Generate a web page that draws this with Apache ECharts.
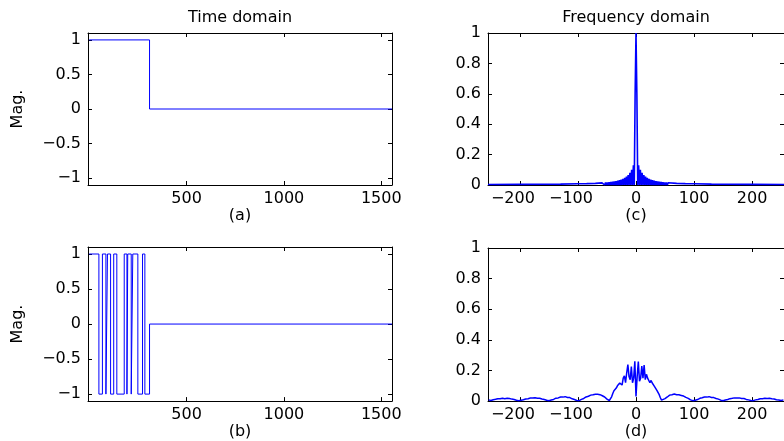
<!DOCTYPE html>
<html><head><meta charset="utf-8">
<script src="https://cdn.jsdelivr.net/npm/echarts@6/dist/echarts.min.js"></script>
<style>html,body{margin:0;padding:0;background:#fff}#c{width:784px;height:441px}</style>
</head><body><div id="c"></div>
<script>
// ---- data ----
const pulseEdges = [0, 310, 1555];
const pulseLevels = [1, 0];
const bitEdges = [0, 50, 68, 86, 94, 110, 126, 142, 180, 194, 198, 216, 224, 250, 274, 286, 310, 1555];
const bitLevels = [1, -1, 1, -1, 1, -1, 1, -1, 1, -1, 1, -1, 1, -1, 1, -1, 0];
const timeTicks = [500, 1000, 1500];
const magTicks = [-1, -0.5, 0, 0.5, 1];
const freqTicks = [-200, -100, 0, 100, 200];
const specTicks = [0, 0.2, 0.4, 0.6, 0.8, 1];
const titles = ['Time domain', 'Frequency domain'];
const subLabels = ['(a)', '(b)', '(c)', '(d)'];
const yName = 'Mag.';

const freqC = [-255, -200, -160, -130, -100, -85, -70,
  -58.5, -57, -55.5, -54, -52.5, -51, -49.5, -48, -46.5, -45, -43.5, -42, -40.5, -39, -37.5, -36,
  -34.5, -33, -31.5, -30, -28.5, -27, -25.5, -24, -22.5, -21, -19.5, -18, -16.5, -15, -13.5, -12,
  -10.5, -9, -7.5, -6, -4.5, -3, -1.5, 0, 1.5, 3, 4.5, 6, 7.5, 9, 10.5, 12, 13.5, 15, 16.5, 18,
  19.5, 21, 22.5, 24, 25.5, 27, 28.5, 30, 31.5, 33, 34.5, 36, 37.5, 39, 40.5, 42, 43.5, 45, 46.5, 48,
  49.5, 51, 52.5, 54, 55.5, 57, 58.5, 70, 85, 100, 130, 160, 200, 255];
const magC = [0.003, 0.004, 0.005, 0.006, 0.008, 0.009, 0.011,
  0.014, 0.002, 0.015, 0, 0.016, 0, 0.017, 0, 0.018, 0, 0.020, 0, 0.022, 0, 0.024, 0,
  0.026, 0, 0.029, 0, 0.032, 0, 0.036, 0, 0.041, 0, 0.047, 0, 0.055, 0, 0.065, 0,
  0.080, 0, 0.100, 0, 0.130, 0, 0.600, 1.000, 0.600, 0, 0.130, 0, 0.100, 0, 0.080, 0, 0.065, 0, 0.055, 0,
  0.047, 0, 0.041, 0, 0.036, 0, 0.032, 0, 0.029, 0, 0.026, 0, 0.024, 0, 0.022, 0, 0.020, 0, 0.018, 0,
  0.017, 0, 0.016, 0, 0.015, 0.002, 0.014, 0.011, 0.009, 0.008, 0.006, 0.005, 0.004, 0.003];

const freqD = [-254, -250, -246, -242, -238, -234, -230, -226, -222, -218, -214, -210, -206, -202,
  -198, -194, -190, -186, -182, -178, -174, -170, -166, -162, -158, -154, -150, -146, -142, -138,
  -134, -130, -126, -122, -118, -114, -110, -106, -102, -98, -94, -90, -86, -82, -78, -74, -70,
  -66, -62, -58, -54, -50, -46,
  -44, -42, -40, -38, -36, -34, -32, -30, -28, -26, -24, -22, -20, -18, -16, -14, -12, -10, -8,
  -6, -4, -2, 0, 2, 4, 6, 8, 10, 12, 14, 16, 18, 20, 22, 24, 26, 28, 30, 32, 34, 36, 38, 40, 42, 44,
  46, 50, 54, 58, 62, 66, 70, 74, 78, 82, 86, 90, 94, 98, 102, 106, 110, 114, 118, 122, 126, 130,
  134, 138, 142, 146, 150, 154, 158, 162, 166, 170, 174, 178, 182, 186, 190, 194, 198, 202, 206,
  210, 214, 218, 222, 226, 230, 234, 238, 242, 246, 250, 254];
const magD = [0.008, 0.004, 0.009, 0.012, 0.016, 0.015, 0.019, 0.016, 0.018, 0.017, 0.013, 0.011, 0.006, 0.003,
  0.005, 0.009, 0.014, 0.016, 0.020, 0.020, 0.022, 0.019, 0.019, 0.014, 0.011, 0.006, 0.002, 0.007, 0.011, 0.019,
  0.021, 0.027, 0.026, 0.029, 0.024, 0.023, 0.015, 0.010, 0.004, 0.003, 0.011, 0.017, 0.027, 0.032, 0.039, 0.041, 0.045,
  0.045, 0.042, 0.035, 0.027, 0.013, 0.004,
  0.008, 0.028, 0.050, 0.068, 0.062, 0.085, 0.100, 0.090, 0.118, 0.130, 0.105, 0.150, 0.165, 0.120, 0.185, 0.238, 0.160, 0.140, 0.225,
  0.120, 0.150, 0.260, 0.030, 0.160, 0.258, 0.130, 0.150, 0.228, 0.150, 0.236, 0.140, 0.175, 0.150, 0.160, 0.120, 0.135, 0.118, 0.108, 0.095, 0.088, 0.070, 0.062, 0.042, 0.022, 0.006,
  0.004, 0.016, 0.027, 0.039, 0.042, 0.046, 0.042, 0.041, 0.037, 0.033, 0.024, 0.018, 0.008, 0.003, 0.006, 0.010, 0.018, 0.022, 0.027, 0.026, 0.029, 0.024,
  0.023, 0.017, 0.013, 0.006, 0.002, 0.007, 0.010, 0.016, 0.018, 0.021, 0.020, 0.021, 0.017, 0.017, 0.011, 0.008, 0.004, 0.003, 0.008,
  0.010, 0.015, 0.015, 0.018, 0.017, 0.018, 0.015, 0.014, 0.009, 0.007, 0.004, 0.008];

// ---- helpers ----
function stepPoints(edges, levels) {
  const pts = [];
  for (let i = 0; i < levels.length; i++) {
    pts.push([edges[i], levels[i]]);
    pts.push([edges[i + 1], levels[i]]);
  }
  return pts;
}
function pairs(xs, ys) { return xs.map((x, i) => [x, ys[i]]); }
const FONT = 'DejaVu Sans';
const FS = 16;
const fmt = v => String(v).replace('-', '\u2212');
const fmtNegShift = v => v < 0 ? '{n|' + fmt(v) + '}' : fmt(v);
const lineSt = { color: '#000', width: 1 };

const grids = [
  { left: 88, top: 33, width: 304, height: 152 },
  { left: 88, top: 247, width: 304, height: 155 },
  { left: 488, top: 33, right: -8, height: 152 },
  { left: 488, top: 248, right: -8, height: 154 }
];
const xr = [[-6, 1555], [-6, 1555], [-255, 255], [-255, 255]];
const yr = [[-1.1, 1.1], [-1.1, 1.1], [0, 1], [0, 1]];
const xt = [timeTicks, timeTicks, freqTicks, freqTicks];
const yt = [magTicks, magTicks, specTicks, specTicks];

const xAxis = [], yAxis = [];
for (let g = 0; g < 4; g++) {
  xAxis.push({
    type: 'value', gridIndex: g, min: xr[g][0], max: xr[g][1], position: 'bottom',
    axisLine: { onZero: false, lineStyle: lineSt },
    axisTick: { inside: true, length: 4, customValues: xt[g], lineStyle: lineSt },
    axisLabel: {
      customValues: xt[g], formatter: g >= 2 ? fmtNegShift : fmt, color: '#000', fontSize: FS, fontFamily: FONT, margin: 6,
      rich: { n: { color: '#000', fontSize: FS, fontFamily: FONT, padding: [0, 14, 0, 0] } }
    },
    splitLine: { show: false },
    name: subLabels[g], nameLocation: 'middle', nameGap: 22,
    nameTextStyle: { color: '#000', fontSize: FS, fontFamily: FONT }
  });
  const top = {
    type: 'value', gridIndex: g, min: xr[g][0], max: xr[g][1], position: 'top',
    axisLine: { onZero: false, lineStyle: lineSt },
    axisTick: { inside: true, length: 4, customValues: xt[g], lineStyle: lineSt },
    axisLabel: { show: false }, splitLine: { show: false }
  };
  if (g === 0 || g === 2) {
    top.name = titles[g === 0 ? 0 : 1];
    top.nameLocation = 'middle';
    top.nameGap = 7;
    top.nameTextStyle = { color: '#000', fontSize: FS, fontFamily: FONT };
  }
  xAxis.push(top);
  const left = {
    type: 'value', gridIndex: g, min: yr[g][0], max: yr[g][1], position: 'left',
    axisLine: { onZero: false, lineStyle: lineSt },
    axisTick: { inside: true, length: 4, customValues: yt[g], lineStyle: lineSt },
    axisLabel: { customValues: yt[g], formatter: fmt, color: '#000', fontSize: FS, fontFamily: FONT, margin: 7 },
    splitLine: { show: false }
  };
  if (g < 2) {
    left.name = yName; left.nameLocation = 'middle'; left.nameGap = 62;
    left.nameTextStyle = { color: '#000', fontSize: FS, fontFamily: FONT };
  }
  yAxis.push(left);
  yAxis.push({
    type: 'value', gridIndex: g, min: yr[g][0], max: yr[g][1], position: 'right',
    axisLine: { onZero: false, lineStyle: lineSt },
    axisTick: { inside: true, length: 4, customValues: yt[g], lineStyle: lineSt },
    axisLabel: { show: false }, splitLine: { show: false }
  });
}

const seriesData = [
  stepPoints(pulseEdges, pulseLevels),
  stepPoints(bitEdges, bitLevels),
  pairs(freqC, magC),
  pairs(freqD, magD)
];
const widths = [1, 1, 1.6, 1.5];
const series = seriesData.map((d, g) => ({
  type: 'line', xAxisIndex: 2 * g, yAxisIndex: 2 * g, data: d, symbol: 'none',
  lineStyle: { color: '#0000ff', width: widths[g] }, clip: true, silent: true
}));

const chart = echarts.init(document.getElementById('c'), null, { renderer: 'canvas' });
chart.setOption({
  animation: false, backgroundColor: '#fff',
  grid: grids, xAxis, yAxis, series
});
</script></body></html>
